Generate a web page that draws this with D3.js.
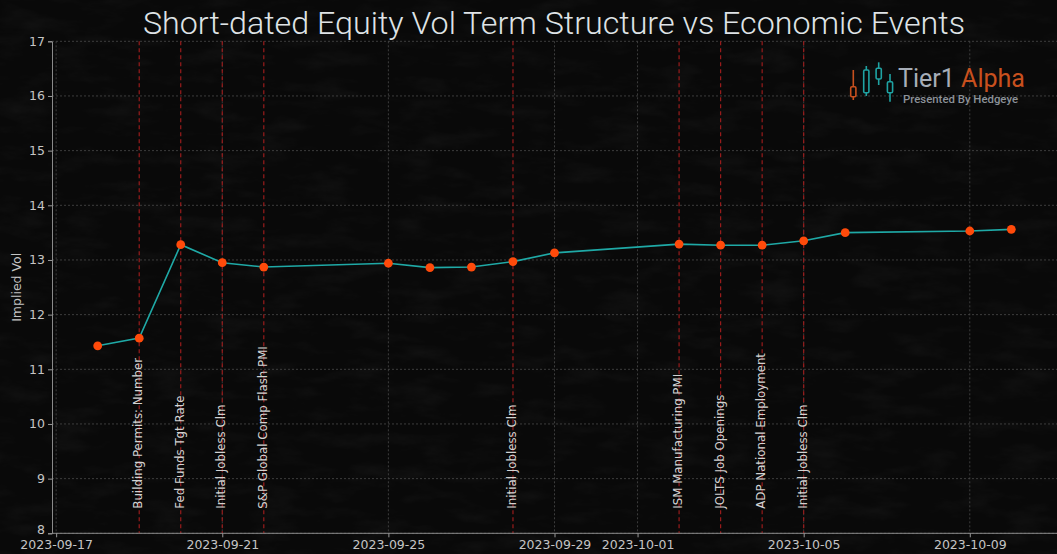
<!DOCTYPE html>
<html>
<head>
<meta charset="utf-8">
<script src="https://cdn.jsdelivr.net/npm/d3@7"></script>
<style>
  html, body { margin: 0; padding: 0; background: #090909; overflow: hidden; }
  svg { display: block; }
</style>
</head>
<body>
<script>
// implied vol term structure, one point per expiry date
var dates = ['2023-09-18','2023-09-19','2023-09-20','2023-09-21','2023-09-22','2023-09-25','2023-09-26',
             '2023-09-27','2023-09-28','2023-09-29','2023-10-02','2023-10-03','2023-10-04','2023-10-05',
             '2023-10-06','2023-10-09','2023-10-10'];
var vols = [11.43,11.57,13.28,12.95,12.87,12.94,12.86,12.87,12.97,13.13,13.29,13.27,13.27,13.35,13.50,13.53,13.56];

// economic events
var eventDates = ['2023-09-19','2023-09-20','2023-09-21','2023-09-22','2023-09-28','2023-10-02','2023-10-03','2023-10-04','2023-10-05'];
var eventNames = ['Building Permits: Number','Fed Funds Tgt Rate','Initial Jobless Clm','S&P Global Comp Flash PMI',
                  'Initial Jobless Clm','ISM Manufacturing PMI','JOLTS Job Openings','ADP National Employment','Initial Jobless Clm'];

var xTicks = ['2023-09-17','2023-09-21','2023-09-25','2023-09-29','2023-10-01','2023-10-05','2023-10-09'];
var yTicks = [8,9,10,11,12,13,14,15,16,17];

var width = 1057, height = 554;
var margin = {left:52, right:0, top:41.3, bottom:20.7};

var parse = d3.utcParse('%Y-%m-%d');
var fmt = d3.utcFormat('%Y-%m-%d');
var data = dates.map(function(d,i){ return {date: parse(d), v: vols[i]}; });

// matplotlib style 5% margin on the date axis
var ext = d3.extent(data, function(d){ return d.date; });
var pad = (ext[1] - ext[0]) * 0.05;
var x = d3.scaleUtc()
          .domain([new Date(+ext[0] - pad), new Date(+ext[1] + pad)])
          .range([margin.left, width - margin.right]);
var y = d3.scaleLinear().domain([8,17]).range([height - margin.bottom, margin.top]);

var svg = d3.select('body').append('svg').attr('width', width).attr('height', height);

// dark scratched background
var defs = svg.append('defs');
var f = defs.append('filter').attr('id','grain').attr('x',0).attr('y',0).attr('width','100%').attr('height','100%');
f.append('feTurbulence').attr('type','fractalNoise').attr('baseFrequency','0.02 0.06').attr('numOctaves',4).attr('seed',3);
f.append('feColorMatrix').attr('type','matrix')
  .attr('values','0 0 0 0 0.6  0 0 0 0 0.6  0 0 0 0 0.6  1 0 0 0 -0.45');
svg.append('rect').attr('width',width).attr('height',height).attr('fill','#090909');
svg.append('rect').attr('width',width).attr('height',height).attr('filter','url(#grain)').attr('opacity',0.09);

// title
svg.append('text')
   .attr('x', 554).attr('y', 34)
   .attr('text-anchor','middle')
   .attr('textLength', 822).attr('lengthAdjust','spacingAndGlyphs')
   .style('font-family','Roboto, sans-serif').style('font-size','32px').style('font-weight',300)
   .attr('fill','#dfe3e6')
   .text('Short-dated Equity Vol Term Structure vs Economic Events');

// grid
var grid = svg.append('g').attr('stroke','#4a4a4a').attr('stroke-width',0.8).attr('stroke-dasharray','2,2');
grid.selectAll('.gx').data(xTicks).enter().append('line')
    .attr('x1', function(d){ return x(parse(d)); }).attr('x2', function(d){ return x(parse(d)); })
    .attr('y1', y(17)).attr('y2', y(8));
grid.selectAll('.gy').data(yTicks).enter().append('line')
    .attr('x1', margin.left).attr('x2', width)
    .attr('y1', function(d){ return y(d); }).attr('y2', function(d){ return y(d); });

// logo (decoration, top right)
var logo = svg.append('g');
var candles = [[853.3,70,100,86.7,96.7,'#c8501e'],[866.3,66,96,70,92.7,'#1fa3a3'],[878.7,62.3,85,68.3,79,'#1fa3a3'],[890,74,101.7,81.7,92.7,'#1fa3a3']];
candles.forEach(function(c){
  logo.append('line').attr('x1',c[0]).attr('x2',c[0]).attr('y1',c[1]).attr('y2',c[2]).attr('stroke',c[5]).attr('stroke-width',1.6);
  logo.append('rect').attr('x',c[0]-2.6).attr('y',c[3]).attr('width',5.2).attr('height',c[4]-c[3]).attr('rx',1.2)
      .attr('fill','#090909').attr('stroke',c[5]).attr('stroke-width',1.6);
});
var lt = logo.append('text').attr('x',898).attr('y',87).attr('textLength',127).attr('lengthAdjust','spacingAndGlyphs')
    .style('font-family','Roboto, sans-serif').style('font-size','25px').style('font-weight',400);
lt.append('tspan').attr('fill','#a7aeb8').text('Tier1 ');
lt.append('tspan').attr('fill','#c8501e').text('Alpha');
logo.append('text').attr('x',903).attr('y',103).attr('textLength',115).attr('lengthAdjust','spacingAndGlyphs')
    .style('font-family','Roboto, sans-serif').style('font-size','11px').style('font-weight',500).attr('fill','#8c9299')
    .text('Presented By Hedgeye');

// event lines + labels
var ev = svg.append('g');
ev.selectAll('line').data(eventDates).enter().append('line')
  .attr('x1', function(d){ return x(parse(d)); }).attr('x2', function(d){ return x(parse(d)); })
  .attr('y1', y(17)).attr('y2', y(8))
  .attr('stroke','#9a1c1c').attr('stroke-width',1.2).attr('stroke-dasharray','4,3');
ev.selectAll('text').data(eventDates).enter().append('text')
  .attr('transform', function(d){ return 'translate(' + (x(parse(d)) + 3) + ',' + y(8.45) + ') rotate(-90)'; })
  .style('font-family','"DejaVu Sans", sans-serif').style('font-size','11.8px')
  .attr('fill','#d2d2d2')
  .text(function(d,i){ return eventNames[i]; });

// series
var line = d3.line().x(function(d){ return x(d.date); }).y(function(d){ return y(d.v); });
svg.append('path').datum(data).attr('d', line)
   .attr('fill','none').attr('stroke','#1fa9a6').attr('stroke-width',1.6);
svg.selectAll('circle').data(data).enter().append('circle')
   .attr('cx', function(d){ return x(d.date); }).attr('cy', function(d){ return y(d.v); })
   .attr('r', 4.4).attr('fill','#ff4a0a');

// axes
var xAxis = d3.axisBottom(x).tickValues(xTicks.map(parse)).tickFormat(fmt).tickSize(4).tickPadding(3);
var yAxis = d3.axisLeft(y).tickValues(yTicks).tickSize(4).tickPadding(3);

var gx = svg.append('g').attr('transform','translate(0,' + y(8) + ')').call(xAxis);
var gy = svg.append('g').attr('transform','translate(' + margin.left + ',0)').call(yAxis);
[gx, gy].forEach(function(g){
  g.select('.domain').attr('stroke','#8a8a8a');
  g.selectAll('.tick line').attr('stroke','#9a9a9a');
  g.selectAll('.tick text').attr('fill','#c4c4c4')
   .style('font-family','"DejaVu Sans", sans-serif').style('font-size','12.5px');
});
gx.select('.domain').attr('d','M' + margin.left + ',0H' + width);
// lowest y label sits just above the date labels
gy.selectAll('.tick text').filter(function(d){ return d === 8; }).attr('dy','0em');

svg.append('text')
   .attr('transform','translate(21,' + ((y(8)+y(17))/2) + ') rotate(-90)')
   .attr('text-anchor','middle')
   .style('font-family','"DejaVu Sans", sans-serif').style('font-size','12.5px')
   .attr('fill','#c4c4c4')
   .text('Implied Vol');
</script>
</body>
</html>
